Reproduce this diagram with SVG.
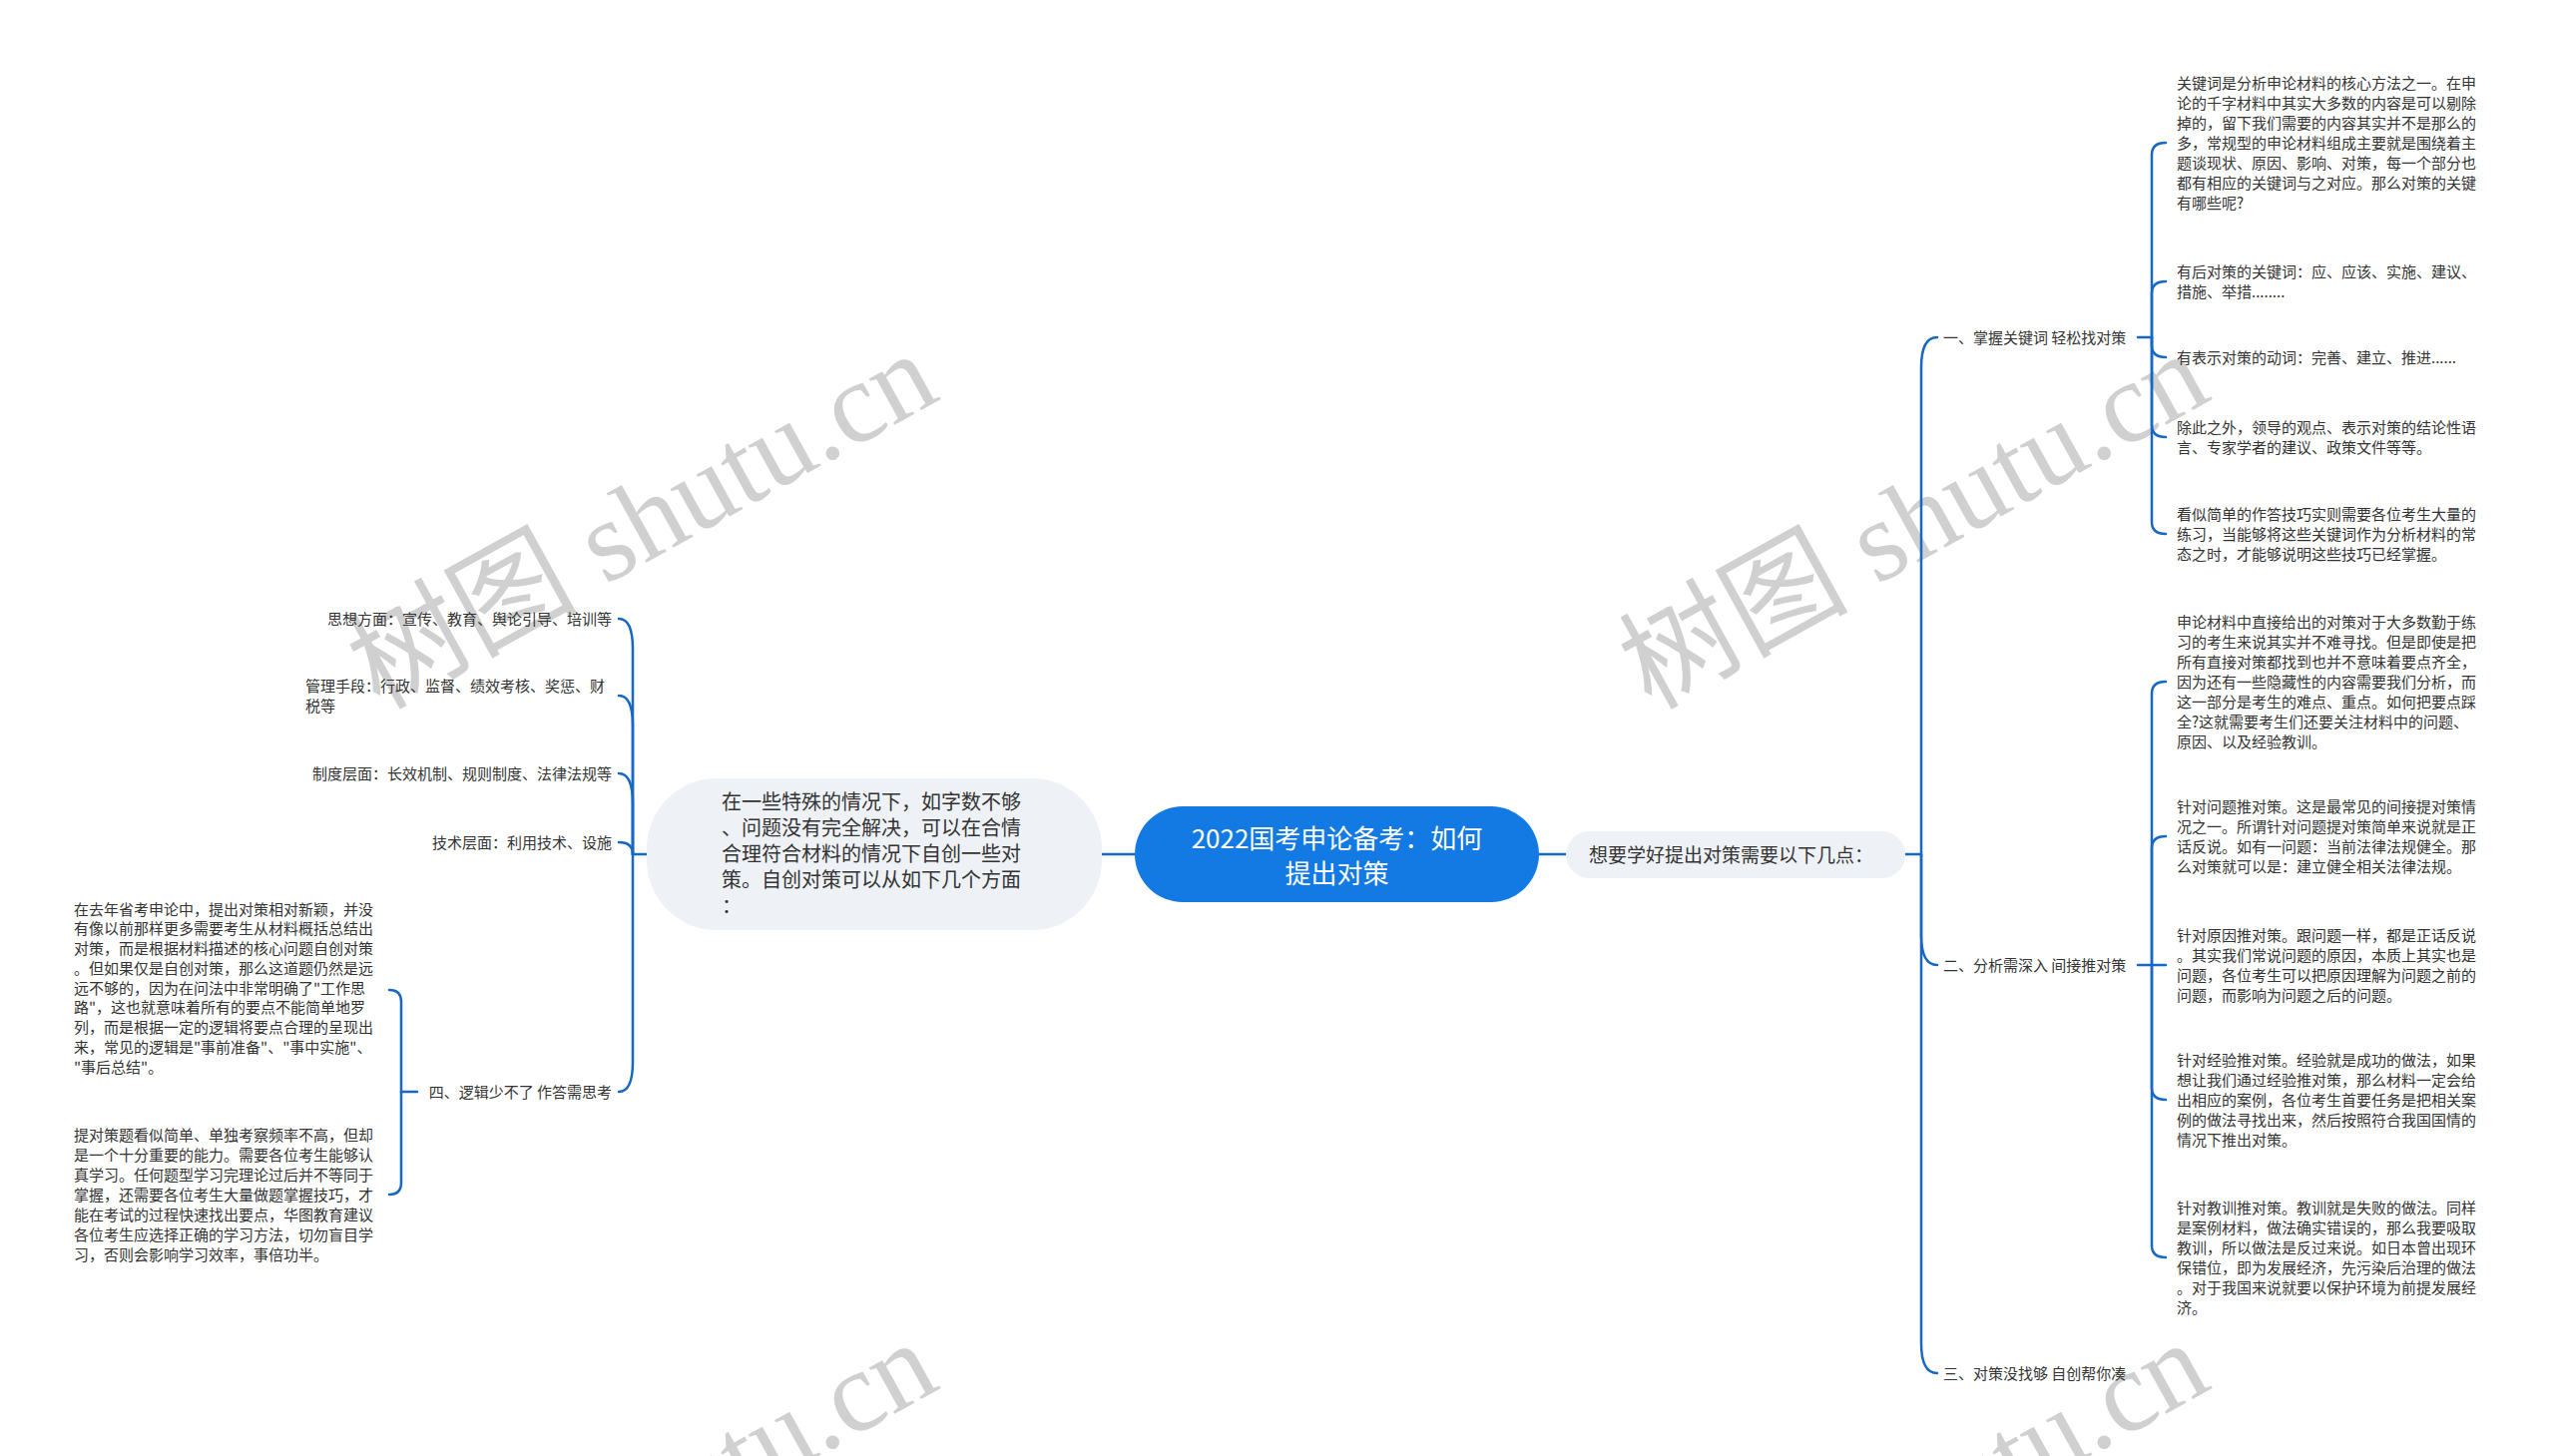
<svg xmlns="http://www.w3.org/2000/svg" width="2560" height="1459" viewBox="0 0 2560 1459">
<style>
text{font-family:"Noto Sans CJK SC","Noto Sans",sans-serif;fill:#333333}
.leaf{font-size:15px}
.br{font-size:15px}
.wm{font-family:"Liberation Serif","Noto Sans CJK SC",serif;font-size:115px;fill:#d0d0d0}
.cn{fill:none;stroke:#1668c4;stroke-width:2.5;stroke-linecap:round}
.soft{fill:#eef1f5}
</style>
<rect width="2560" height="1459" fill="#ffffff"/>
<g id="watermarks">
<text class="wm" transform="translate(380,712) rotate(-29)">树图 shutu.cn</text>
<text class="wm" transform="translate(1654,712) rotate(-29)">树图 shutu.cn</text>
<text class="wm" transform="translate(380,1703) rotate(-29)">树图 shutu.cn</text>
<text class="wm" transform="translate(1654,1703) rotate(-29)">树图 shutu.cn</text>
</g>
<g id="connectors">
<path class="cn" d="M1104,856 H1137"/>
<path class="cn" d="M1542,856 H1569"/>
<path class="cn" d="M1909,856 H1925 V368 Q1925,338 1941,338"/>
<path class="cn" d="M1925,856 V937 Q1925,967 1941,967"/>
<path class="cn" d="M1925,856 V1346 Q1925,1376 1941,1376"/>
<path class="cn" d="M2142,338 H2156 V155 Q2156,143 2170,143"/>
<path class="cn" d="M2156,338 V294 Q2156,282 2170,282"/>
<path class="cn" d="M2156,338 V346 Q2156,358 2170,358"/>
<path class="cn" d="M2156,338 V426 Q2156,438 2170,438"/>
<path class="cn" d="M2156,338 V523 Q2156,535 2170,535"/>
<path class="cn" d="M2142,967 H2156 V695 Q2156,683 2170,683"/>
<path class="cn" d="M2156,967 V850 Q2156,838 2170,838"/>
<path class="cn" d="M2156,967 H2170"/>
<path class="cn" d="M2156,967 V1090 Q2156,1102 2170,1102"/>
<path class="cn" d="M2156,967 V1248 Q2156,1260 2170,1260"/>
<path class="cn" d="M648,856 H634 V650 Q634,620 620,620"/>
<path class="cn" d="M634,856 V727 Q634,697 620,697"/>
<path class="cn" d="M634,856 V805 Q634,775 620,775"/>
<path class="cn" d="M634,856 Q634,844 620,844"/>
<path class="cn" d="M634,856 V1064 Q634,1094 620,1094"/>
<path class="cn" d="M418,1094 H402 V1004 Q402,992 390,992"/>
<path class="cn" d="M402,1094 V1185 Q402,1197 390,1197"/>
</g>
<g id="root">
<rect x="1137" y="808" width="405" height="96" rx="48" fill="#1379e3"/>
<text x="1339.5" y="850" font-size="26" text-anchor="middle" style="fill:#ffffff">2022国考申论备考：如何<tspan x="1339.5" dy="35">提出对策</tspan></text>
</g>
<g id="node-left">
<rect class="soft" x="648" y="780" width="456" height="152" rx="70"/>
<text x="723" y="810.5" font-size="20">在一些特殊的情况下，如字数不够<tspan x="723" dy="26">、问题没有完全解决，可以在合情</tspan><tspan x="723" dy="26">合理符合材料的情况下自创一些对</tspan><tspan x="723" dy="26">策。自创对策可以从如下几个方面</tspan><tspan x="723" dy="26">：</tspan></text>
</g>
<g id="node-right">
<rect class="soft" x="1569" y="833" width="340" height="47" rx="23.5"/>
<text x="1592" y="864" font-size="19">想要学好提出对策需要以下几点：</text>
</g>
<g id="left-1"><text class="leaf" x="613" y="625.5" text-anchor="end">思想方面：宣传、教育、舆论引导、培训等</text></g>
<g id="left-2"><text class="leaf" x="306" y="692.5">管理手段：行政、监督、绩效考核、奖惩、财<tspan x="306" dy="20">税等</tspan></text></g>
<g id="left-3"><text class="leaf" x="613" y="780.5" text-anchor="end">制度层面：长效机制、规则制度、法律法规等</text></g>
<g id="left-4"><text class="leaf" x="613" y="849.5" text-anchor="end">技术层面：利用技术、设施</text></g>
<g id="left-5"><text class="br" x="613" y="1099.5" text-anchor="end">四、逻辑少不了 作答需思考</text></g>
<g id="left-5-1"><text class="leaf" x="74" y="916.5">在去年省考申论中，提出对策相对新颖，并没<tspan x="74" dy="19.75">有像以前那样更多需要考生从材料概括总结出</tspan><tspan x="74" dy="19.75">对策，而是根据材料描述的核心问题自创对策</tspan><tspan x="74" dy="19.75">。但如果仅是自创对策，那么这道题仍然是远</tspan><tspan x="74" dy="19.75">远不够的，因为在问法中非常明确了"工作思</tspan><tspan x="74" dy="19.75">路"，这也就意味着所有的要点不能简单地罗</tspan><tspan x="74" dy="19.75">列，而是根据一定的逻辑将要点合理的呈现出</tspan><tspan x="74" dy="19.75">来，常见的逻辑是"事前准备"、"事中实施"、</tspan><tspan x="74" dy="19.75">"事后总结"。</tspan></text></g>
<g id="left-5-2"><text class="leaf" x="74" y="1142.5">提对策题看似简单、单独考察频率不高，但却<tspan x="74" dy="20">是一个十分重要的能力。需要各位考生能够认</tspan><tspan x="74" dy="20">真学习。任何题型学习完理论过后并不等同于</tspan><tspan x="74" dy="20">掌握，还需要各位考生大量做题掌握技巧，才</tspan><tspan x="74" dy="20">能在考试的过程快速找出要点，华图教育建议</tspan><tspan x="74" dy="20">各位考生应选择正确的学习方法，切勿盲目学</tspan><tspan x="74" dy="20">习，否则会影响学习效率，事倍功半。</tspan></text></g>
<g id="branch-1"><text class="br" x="1947" y="343.5">一、掌握关键词 轻松找对策</text></g>
<g id="branch-2"><text class="br" x="1947" y="972.5">二、分析需深入 间接推对策</text></g>
<g id="branch-3"><text class="br" x="1947" y="1381.5">三、对策没找够 自创帮你凑</text></g>
<g id="leaf-1-1"><text class="leaf" x="2181" y="88.5">关键词是分析申论材料的核心方法之一。在申<tspan x="2181" dy="20">论的千字材料中其实大多数的内容是可以剔除</tspan><tspan x="2181" dy="20">掉的，留下我们需要的内容其实并不是那么的</tspan><tspan x="2181" dy="20">多，常规型的申论材料组成主要就是围绕着主</tspan><tspan x="2181" dy="20">题谈现状、原因、影响、对策，每一个部分也</tspan><tspan x="2181" dy="20">都有相应的关键词与之对应。那么对策的关键</tspan><tspan x="2181" dy="20">有哪些呢?</tspan></text></g>
<g id="leaf-1-2"><text class="leaf" x="2181" y="277.5">有后对策的关键词：应、应该、实施、建议、<tspan x="2181" dy="20">措施、举措........</tspan></text></g>
<g id="leaf-1-3"><text class="leaf" x="2181" y="363.5">有表示对策的动词：完善、建立、推进......</text></g>
<g id="leaf-1-4"><text class="leaf" x="2181" y="433.5">除此之外，领导的观点、表示对策的结论性语<tspan x="2181" dy="20">言、专家学者的建议、政策文件等等。</tspan></text></g>
<g id="leaf-1-5"><text class="leaf" x="2181" y="520.5">看似简单的作答技巧实则需要各位考生大量的<tspan x="2181" dy="20">练习，当能够将这些关键词作为分析材料的常</tspan><tspan x="2181" dy="20">态之时，才能够说明这些技巧已经掌握。</tspan></text></g>
<g id="leaf-2-1"><text class="leaf" x="2181" y="628.5">申论材料中直接给出的对策对于大多数勤于练<tspan x="2181" dy="20">习的考生来说其实并不难寻找。但是即使是把</tspan><tspan x="2181" dy="20">所有直接对策都找到也并不意味着要点齐全，</tspan><tspan x="2181" dy="20">因为还有一些隐藏性的内容需要我们分析，而</tspan><tspan x="2181" dy="20">这一部分是考生的难点、重点。如何把要点踩</tspan><tspan x="2181" dy="20">全?这就需要考生们还要关注材料中的问题、</tspan><tspan x="2181" dy="20">原因、以及经验教训。</tspan></text></g>
<g id="leaf-2-2"><text class="leaf" x="2181" y="813.5">针对问题推对策。这是最常见的间接提对策情<tspan x="2181" dy="20">况之一。所谓针对问题提对策简单来说就是正</tspan><tspan x="2181" dy="20">话反说。如有一问题：当前法律法规健全。那</tspan><tspan x="2181" dy="20">么对策就可以是：建立健全相关法律法规。</tspan></text></g>
<g id="leaf-2-3"><text class="leaf" x="2181" y="942.5">针对原因推对策。跟问题一样，都是正话反说<tspan x="2181" dy="20">。其实我们常说问题的原因，本质上其实也是</tspan><tspan x="2181" dy="20">问题，各位考生可以把原因理解为问题之前的</tspan><tspan x="2181" dy="20">问题，而影响为问题之后的问题。</tspan></text></g>
<g id="leaf-2-4"><text class="leaf" x="2181" y="1067.5">针对经验推对策。经验就是成功的做法，如果<tspan x="2181" dy="20">想让我们通过经验推对策，那么材料一定会给</tspan><tspan x="2181" dy="20">出相应的案例，各位考生首要任务是把相关案</tspan><tspan x="2181" dy="20">例的做法寻找出来，然后按照符合我国国情的</tspan><tspan x="2181" dy="20">情况下推出对策。</tspan></text></g>
<g id="leaf-2-5"><text class="leaf" x="2181" y="1215.5">针对教训推对策。教训就是失败的做法。同样<tspan x="2181" dy="20">是案例材料，做法确实错误的，那么我要吸取</tspan><tspan x="2181" dy="20">教训，所以做法是反过来说。如日本曾出现环</tspan><tspan x="2181" dy="20">保错位，即为发展经济，先污染后治理的做法</tspan><tspan x="2181" dy="20">。对于我国来说就要以保护环境为前提发展经</tspan><tspan x="2181" dy="20">济。</tspan></text></g>
</svg>
